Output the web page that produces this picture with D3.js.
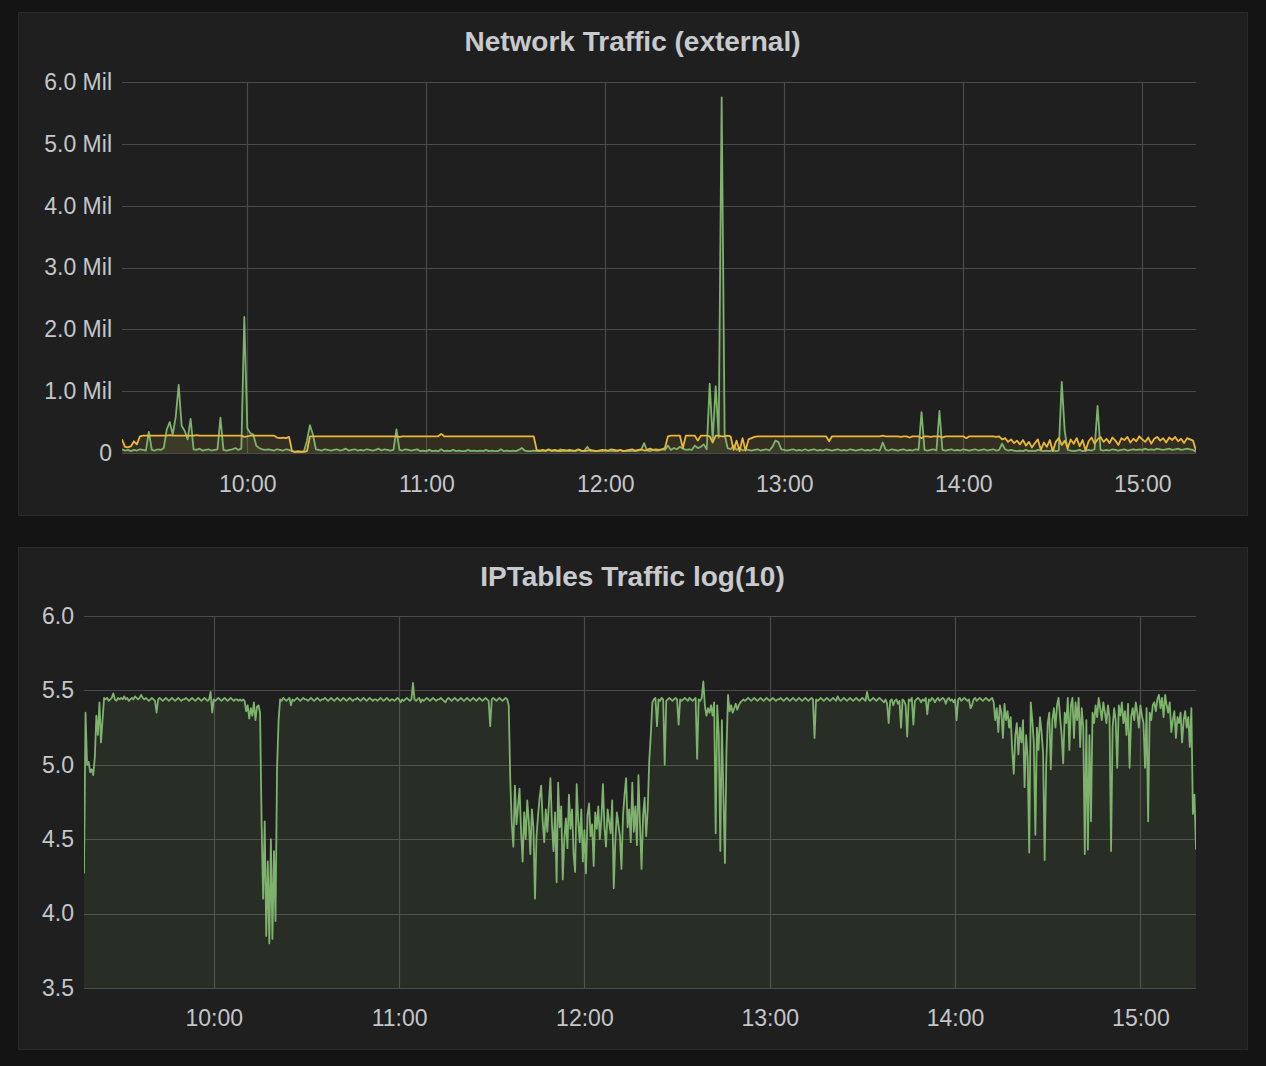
<!DOCTYPE html>
<html><head><meta charset="utf-8">
<script src="https://cdn.jsdelivr.net/npm/d3@7"></script>
<style>
body{margin:0;background:#141414;}
svg{display:block;}
text{font-family:"Liberation Sans",Arial,Helvetica,sans-serif;}
</style>
</head><body>
<svg id="c" width="1266" height="1066"></svg>
<script>
// ---------- data ----------
const startTime = "2017-01-01T09:18:00";
const endTime   = "2017-01-01T15:18:00";
const netStepSeconds = 60;   // one sample per minute (top panel)
const iptStepSeconds = 30;   // one sample per 30 s (bottom panel)

const xTickTimes  = ["2017-01-01T10:00:00","2017-01-01T11:00:00","2017-01-01T12:00:00","2017-01-01T13:00:00","2017-01-01T14:00:00","2017-01-01T15:00:00"];
const xTickLabels = ["10:00","11:00","12:00","13:00","14:00","15:00"];

const netYTicks  = [0,1,2,3,4,5,6];
const netYLabels = ["0","1.0 Mil","2.0 Mil","3.0 Mil","4.0 Mil","5.0 Mil","6.0 Mil"];
const logYTicks  = [3.5,4.0,4.5,5.0,5.5,6.0];
const logYLabels = ["3.5","4.0","4.5","5.0","5.5","6.0"];

const panelTitles = ["Network Traffic (external)","IPTables Traffic log(10)"];

// Network traffic, millions (yellow series)
const netYellow = [
0.22,0.10,0.09,0.11,0.19,0.14,0.27,0.28,0.28,0.28,
0.28,0.28,0.28,0.28,0.28,0.28,0.29,0.28,0.28,0.28,
0.28,0.28,0.28,0.28,0.28,0.29,0.28,0.28,0.28,0.28,
0.28,0.28,0.28,0.28,0.28,0.28,0.28,0.28,0.28,0.28,
0.28,0.26,0.27,0.28,0.28,0.28,0.28,0.28,0.28,0.28,
0.28,0.28,0.25,0.24,0.25,0.24,0.26,0.03,0.02,0.02,
0.02,0.02,0.03,0.27,0.27,0.27,0.27,0.27,0.27,0.27,
0.27,0.27,0.27,0.27,0.27,0.27,0.27,0.27,0.27,0.27,
0.27,0.27,0.27,0.27,0.27,0.27,0.27,0.27,0.27,0.27,
0.27,0.27,0.27,0.26,0.27,0.27,0.27,0.27,0.27,0.27,
0.27,0.27,0.27,0.27,0.27,0.27,0.27,0.31,0.27,0.27,
0.27,0.27,0.27,0.27,0.27,0.27,0.27,0.27,0.27,0.27,
0.27,0.27,0.27,0.27,0.27,0.27,0.27,0.27,0.27,0.27,
0.27,0.27,0.27,0.27,0.27,0.27,0.27,0.27,0.27,0.05,
0.04,0.05,0.04,0.06,0.04,0.05,0.04,0.03,0.05,0.04,
0.05,0.04,0.04,0.06,0.04,0.03,0.04,0.05,0.04,0.03,
0.04,0.05,0.04,0.04,0.06,0.05,0.04,0.05,0.03,0.04,
0.05,0.06,0.04,0.05,0.06,0.04,0.05,0.07,0.05,0.06,
0.05,0.06,0.08,0.27,0.28,0.28,0.28,0.28,0.08,0.28,
0.28,0.28,0.28,0.20,0.28,0.28,0.28,0.27,0.17,0.28,
0.28,0.27,0.27,0.28,0.27,0.05,0.20,0.03,0.24,0.04,
0.22,0.24,0.26,0.27,0.27,0.27,0.27,0.27,0.27,0.27,
0.27,0.27,0.27,0.27,0.27,0.27,0.27,0.27,0.27,0.27,
0.27,0.27,0.27,0.27,0.27,0.27,0.27,0.19,0.27,0.27,
0.27,0.27,0.27,0.27,0.27,0.27,0.27,0.27,0.27,0.27,
0.27,0.27,0.27,0.27,0.27,0.28,0.27,0.27,0.27,0.27,
0.27,0.26,0.27,0.27,0.25,0.27,0.27,0.27,0.24,0.27,
0.27,0.26,0.27,0.27,0.27,0.25,0.27,0.27,0.27,0.27,
0.27,0.27,0.27,0.24,0.27,0.27,0.27,0.27,0.27,0.27,
0.27,0.27,0.27,0.26,0.27,0.22,0.24,0.18,0.22,0.16,
0.20,0.14,0.21,0.12,0.18,0.09,0.16,0.22,0.05,0.17,
0.10,0.21,0.03,0.18,0.24,0.13,0.20,0.08,0.22,0.15,
0.24,0.11,0.21,0.04,0.19,0.25,0.15,0.22,0.26,0.18,
0.23,0.16,0.25,0.20,0.13,0.24,0.21,0.26,0.17,0.23,
0.19,0.27,0.22,0.18,0.25,0.15,0.23,0.26,0.20,0.24,
0.17,0.25,0.21,0.26,0.19,0.23,0.16,0.24,0.22,0.20,0.04
];

// Network traffic, millions (green series)
const netGreen = [
0.06,0.04,0.05,0.03,0.05,0.04,0.06,0.05,0.04,0.34,
0.05,0.04,0.06,0.05,0.08,0.38,0.50,0.30,0.58,1.10,
0.44,0.36,0.22,0.55,0.06,0.05,0.07,0.04,0.05,0.06,
0.04,0.05,0.06,0.57,0.05,0.04,0.05,0.06,0.08,0.05,
0.07,2.20,0.40,0.32,0.30,0.12,0.08,0.06,0.05,0.06,
0.05,0.04,0.06,0.05,0.04,0.06,0.05,0.03,0.02,0.03,
0.02,0.03,0.20,0.45,0.30,0.06,0.05,0.04,0.06,0.05,
0.04,0.05,0.06,0.04,0.05,0.07,0.04,0.05,0.06,0.04,
0.05,0.04,0.06,0.05,0.04,0.05,0.07,0.04,0.06,0.05,
0.04,0.05,0.38,0.05,0.04,0.06,0.05,0.04,0.05,0.06,
0.03,0.04,0.03,0.05,0.03,0.04,0.03,0.06,0.03,0.04,
0.03,0.05,0.03,0.04,0.03,0.03,0.05,0.03,0.04,0.03,
0.04,0.03,0.05,0.03,0.04,0.03,0.03,0.06,0.03,0.04,
0.03,0.04,0.03,0.05,0.08,0.04,0.03,0.03,0.04,0.03,
0.03,0.04,0.03,0.05,0.03,0.04,0.03,0.06,0.03,0.04,
0.03,0.04,0.03,0.05,0.03,0.04,0.10,0.03,0.04,0.03,
0.04,0.03,0.05,0.03,0.04,0.03,0.03,0.05,0.03,0.04,
0.03,0.04,0.03,0.04,0.05,0.16,0.04,0.03,0.05,0.04,
0.04,0.06,0.05,0.12,0.05,0.08,0.06,0.10,0.07,0.05,
0.06,0.05,0.12,0.08,0.10,0.14,0.06,1.12,0.20,1.08,
0.25,5.75,0.30,0.08,0.06,0.12,0.05,0.08,0.04,0.06,
0.05,0.04,0.05,0.06,0.04,0.05,0.06,0.04,0.10,0.20,
0.18,0.06,0.05,0.04,0.05,0.06,0.04,0.05,0.04,0.06,
0.04,0.05,0.06,0.04,0.05,0.04,0.06,0.05,0.04,0.05,
0.06,0.04,0.05,0.04,0.06,0.05,0.04,0.05,0.06,0.04,
0.05,0.04,0.06,0.05,0.04,0.17,0.05,0.04,0.06,0.05,
0.04,0.05,0.06,0.04,0.05,0.04,0.06,0.05,0.66,0.05,
0.04,0.05,0.06,0.04,0.68,0.05,0.04,0.05,0.06,0.04,
0.05,0.04,0.06,0.05,0.04,0.05,0.06,0.04,0.05,0.06,
0.04,0.05,0.06,0.04,0.05,0.15,0.06,0.04,0.05,0.04,
0.03,0.04,0.03,0.05,0.03,0.04,0.03,0.05,0.04,0.03,
0.04,0.03,0.05,0.03,0.04,1.15,0.35,0.05,0.04,0.03,
0.04,0.05,0.03,0.04,0.05,0.04,0.06,0.76,0.05,0.04,
0.05,0.04,0.06,0.05,0.04,0.05,0.06,0.04,0.05,0.06,
0.05,0.06,0.05,0.07,0.05,0.06,0.05,0.07,0.06,0.05,
0.06,0.07,0.05,0.06,0.07,0.05,0.06,0.07,0.06,0.05,0.02
];

// IPTables traffic, log10 (green series)
const iptLog = [
4.27,5.35,5.00,5.02,4.95,4.97,4.93,5.05,5.33,5.20,
5.42,5.15,5.30,5.45,5.44,5.45,5.43,5.44,5.45,5.48,
5.44,5.43,5.45,5.44,5.45,5.44,5.46,5.44,5.45,5.43,
5.44,5.45,5.44,5.46,5.45,5.44,5.45,5.47,5.45,5.44,
5.45,5.44,5.43,5.44,5.45,5.44,5.43,5.35,5.44,5.45,
5.44,5.43,5.44,5.45,5.44,5.43,5.44,5.45,5.44,5.43,
5.44,5.45,5.44,5.43,5.44,5.44,5.45,5.44,5.43,5.44,
5.45,5.44,5.43,5.44,5.45,5.44,5.43,5.44,5.45,5.44,
5.43,5.44,5.49,5.35,5.44,5.43,5.44,5.45,5.44,5.43,
5.44,5.45,5.44,5.43,5.44,5.45,5.44,5.43,5.44,5.44,
5.43,5.44,5.43,5.44,5.43,5.36,5.40,5.31,5.38,5.33,
5.42,5.30,5.39,5.40,5.35,4.60,4.10,4.62,3.85,4.35,
3.80,4.50,3.83,4.42,3.95,4.98,5.30,5.44,5.43,5.45,
5.44,5.43,5.44,5.45,5.40,5.44,5.43,5.44,5.45,5.44,
5.43,5.44,5.45,5.44,5.44,5.43,5.44,5.45,5.44,5.43,
5.44,5.45,5.44,5.43,5.44,5.44,5.45,5.44,5.43,5.44,
5.45,5.44,5.43,5.44,5.45,5.44,5.43,5.44,5.45,5.44,
5.43,5.44,5.45,5.44,5.43,5.44,5.44,5.45,5.44,5.43,
5.44,5.45,5.44,5.43,5.44,5.45,5.44,5.43,5.44,5.44,
5.43,5.44,5.45,5.44,5.43,5.44,5.45,5.44,5.43,5.44,
5.44,5.43,5.44,5.45,5.44,5.42,5.44,5.43,5.44,5.45,
5.44,5.43,5.44,5.55,5.44,5.43,5.44,5.45,5.42,5.44,
5.43,5.44,5.45,5.44,5.43,5.44,5.45,5.44,5.43,5.44,
5.44,5.45,5.44,5.43,5.42,5.44,5.45,5.44,5.43,5.44,
5.45,5.44,5.43,5.44,5.45,5.44,5.43,5.44,5.45,5.44,
5.43,5.44,5.45,5.44,5.43,5.44,5.45,5.44,5.43,5.44,
5.45,5.44,5.43,5.26,5.44,5.45,5.44,5.43,5.44,5.45,
5.44,5.43,5.44,5.45,5.44,5.40,4.90,4.60,4.45,4.86,
4.60,4.72,4.84,4.55,4.35,4.68,4.50,4.76,4.62,4.40,
4.70,4.58,4.10,4.52,4.66,4.78,4.86,4.62,4.48,4.70,
4.55,4.74,4.91,4.60,4.42,4.68,4.21,4.88,4.58,4.72,
4.23,4.50,4.64,4.44,4.80,4.57,4.70,4.40,4.28,4.87,
4.62,4.48,4.70,4.35,4.56,4.27,4.66,4.74,4.52,4.60,
4.32,4.68,4.57,4.72,4.50,4.64,4.87,4.58,4.45,4.70,
4.62,4.54,4.76,4.17,4.48,4.68,4.60,4.52,4.30,4.66,
4.80,4.91,4.58,4.70,4.48,4.88,4.55,4.72,4.46,4.93,
4.60,4.30,4.66,4.78,4.52,4.70,5.03,5.20,5.42,5.44,
5.45,5.26,5.44,5.43,5.45,5.44,5.00,5.43,5.44,5.45,
5.44,5.43,5.44,5.45,5.44,5.27,5.44,5.43,5.44,5.45,
5.44,5.43,5.45,5.44,5.43,5.44,5.45,5.04,5.44,5.43,
5.45,5.56,5.40,5.33,5.38,5.35,5.40,5.33,5.42,4.54,
5.40,5.20,4.42,5.30,4.80,4.34,5.10,5.47,5.36,5.40,
5.35,5.38,5.41,5.37,5.40,5.42,5.43,5.44,5.43,5.44,
5.45,5.44,5.43,5.44,5.45,5.44,5.43,5.44,5.45,5.44,
5.43,5.44,5.45,5.44,5.43,5.44,5.45,5.44,5.43,5.44,
5.44,5.45,5.44,5.43,5.44,5.45,5.44,5.43,5.44,5.45,
5.44,5.43,5.44,5.45,5.44,5.43,5.44,5.45,5.44,5.43,
5.44,5.45,5.44,5.18,5.44,5.43,5.44,5.45,5.44,5.43,
5.44,5.45,5.44,5.43,5.44,5.45,5.44,5.43,5.46,5.44,
5.43,5.44,5.45,5.44,5.43,5.44,5.45,5.44,5.43,5.44,
5.45,5.44,5.43,5.44,5.45,5.44,5.43,5.49,5.44,5.43,
5.44,5.45,5.44,5.43,5.44,5.45,5.44,5.43,5.42,5.44,
5.41,5.28,5.43,5.44,5.40,5.43,5.44,5.41,5.43,5.25,
5.44,5.43,5.40,5.19,5.44,5.43,5.45,5.27,5.43,5.44,
5.45,5.44,5.42,5.44,5.43,5.45,5.34,5.44,5.43,5.45,
5.44,5.42,5.44,5.45,5.43,5.44,5.45,5.44,5.41,5.44,
5.45,5.43,5.44,5.42,5.44,5.30,5.44,5.45,5.43,5.44,
5.45,5.44,5.43,5.44,5.38,5.40,5.44,5.45,5.43,5.44,
5.45,5.44,5.43,5.44,5.45,5.44,5.43,5.44,5.45,5.42,
5.30,5.38,5.22,5.40,5.35,5.18,5.41,5.30,5.36,5.25,
5.32,5.10,4.94,5.20,5.28,5.07,5.25,5.15,5.30,4.85,
5.20,5.05,4.41,5.42,5.30,5.15,4.53,5.25,5.10,5.32,
5.22,5.08,4.36,5.00,5.28,5.35,4.97,5.30,5.38,5.25,
5.40,5.45,5.32,5.20,5.01,5.35,5.28,5.45,5.10,5.40,
5.45,5.18,5.42,5.30,5.45,5.12,5.38,5.25,4.40,5.30,
4.43,5.20,4.62,5.35,5.28,5.40,5.32,5.45,5.38,5.30,
5.42,5.35,5.28,5.40,5.32,4.42,5.25,5.38,5.30,4.98,
5.40,5.33,5.42,5.28,5.36,5.20,5.41,4.98,5.32,5.38,
5.30,5.42,5.35,5.25,5.40,5.33,5.28,4.98,5.38,4.62,
5.35,5.30,5.40,5.42,5.36,5.44,5.47,5.38,5.45,5.32,
5.47,5.40,5.35,5.42,5.22,5.30,5.36,5.18,5.32,5.28,
5.35,5.15,5.30,5.36,5.25,5.32,5.12,5.38,4.67,4.80,
4.43
];

// ---------- drawing ----------
const parse = d3.timeParse("%Y-%m-%dT%H:%M:%S");
const t0 = parse(startTime), t1 = parse(endTime);
const svg = d3.select("#c");

const C = {
  page:"#141414", panel:"#1f1f1f", border:"#292929",
  grid:"#4a4a4a", text:"#c4c6c9", title:"#c8cacd",
  yellow:"#EAB839", green:"#7EB26D"
};

function withTimes(values, stepSec){
  return values.map((v,i)=>({t:new Date(t0.getTime()+i*stepSec*1000), v}));
}

function drawPanel(cfg){
  const g = svg.append("g");
  g.append("rect").attr("x",cfg.panel[0]+0.5).attr("y",cfg.panel[1]+0.5)
    .attr("width",cfg.panel[2]).attr("height",cfg.panel[3])
    .attr("fill",C.panel).attr("stroke",C.border).attr("stroke-width",1);
  g.append("text").attr("x",cfg.panel[0]+cfg.panel[2]/2).attr("y",cfg.titleY)
    .attr("text-anchor","middle").attr("font-size",28).attr("font-weight","bold")
    .attr("fill",C.title).text(cfg.title);

  const x = d3.scaleTime().domain([t0,t1]).range([cfg.left,cfg.right]);
  const y = d3.scaleLinear().domain(cfg.yDomain).range([cfg.bottom,cfg.top]);

  // horizontal grid + y labels
  const yAxis = d3.axisLeft(y).tickValues(cfg.yTicks).tickSize(0).tickPadding(10)
    .tickFormat((d,i)=>cfg.yLabels[i]);
  const ya = g.append("g").attr("transform",`translate(${cfg.left},0)`).call(yAxis);
  ya.select(".domain").remove();
  ya.selectAll("text").attr("font-size",23).attr("fill",C.text)
    .attr("font-family","'Liberation Sans',Arial,sans-serif");
  g.append("g").selectAll("line").data(cfg.yTicks).join("line")
    .attr("x1",cfg.left).attr("x2",cfg.right)
    .attr("y1",d=>Math.round(y(d))+0.5).attr("y2",d=>Math.round(y(d))+0.5)
    .attr("stroke",C.grid).attr("stroke-width",1.2);

  // vertical grid + x labels
  const xt = xTickTimes.map(parse);
  const xAxis = d3.axisBottom(x).tickValues(xt).tickSize(0).tickPadding(0)
    .tickFormat((d,i)=>xTickLabels[i]);
  const xa = g.append("g").attr("transform",`translate(0,${cfg.xLabelY})`).call(xAxis);
  xa.select(".domain").remove();
  xa.selectAll("text").attr("font-size",23).attr("fill",C.text).attr("dy","0.35em")
    .attr("font-family","'Liberation Sans',Arial,sans-serif");
  g.append("g").selectAll("line").data(xt).join("line")
    .attr("x1",d=>Math.round(x(d))+0.5).attr("x2",d=>Math.round(x(d))+0.5)
    .attr("y1",cfg.top).attr("y2",cfg.bottom)
    .attr("stroke",C.grid).attr("stroke-width",1.2);

  const clipId = "clip"+cfg.id;
  g.append("clipPath").attr("id",clipId).append("rect")
    .attr("x",cfg.left).attr("y",cfg.top-40).attr("width",cfg.right-cfg.left).attr("height",cfg.bottom-cfg.top+40);
  const plot = g.append("g").attr("clip-path",`url(#${clipId})`);

  const area = d3.area().x(d=>x(d.t)).y0(y(cfg.yDomain[0])).y1(d=>y(d.v));
  const line = d3.line().x(d=>x(d.t)).y(d=>y(d.v));
  cfg.series.forEach(s=>{
    plot.append("path").datum(s.data).attr("d",area).attr("fill",s.color).attr("fill-opacity",0.1);
  });
  cfg.series.forEach(s=>{
    plot.append("path").datum(s.data).attr("d",line).attr("fill","none")
      .attr("stroke",s.color).attr("stroke-width",1.8).attr("stroke-linejoin","round");
  });
}

drawPanel({
  id:1, panel:[18,12,1229,503], title:panelTitles[0], titleY:51,
  left:122, right:1196, top:82, bottom:453, xLabelY:484,
  yDomain:[0,6], yTicks:netYTicks, yLabels:netYLabels,
  series:[
    {data:withTimes(netGreen,netStepSeconds), color:C.green},
    {data:withTimes(netYellow,netStepSeconds), color:C.yellow}
  ]
});

drawPanel({
  id:2, panel:[18,547,1229,502], title:panelTitles[1], titleY:586,
  left:84, right:1196, top:616, bottom:988, xLabelY:1018,
  yDomain:[3.5,6], yTicks:logYTicks, yLabels:logYLabels,
  series:[
    {data:withTimes(iptLog,iptStepSeconds), color:C.green}
  ]
});
</script>
</body></html>
